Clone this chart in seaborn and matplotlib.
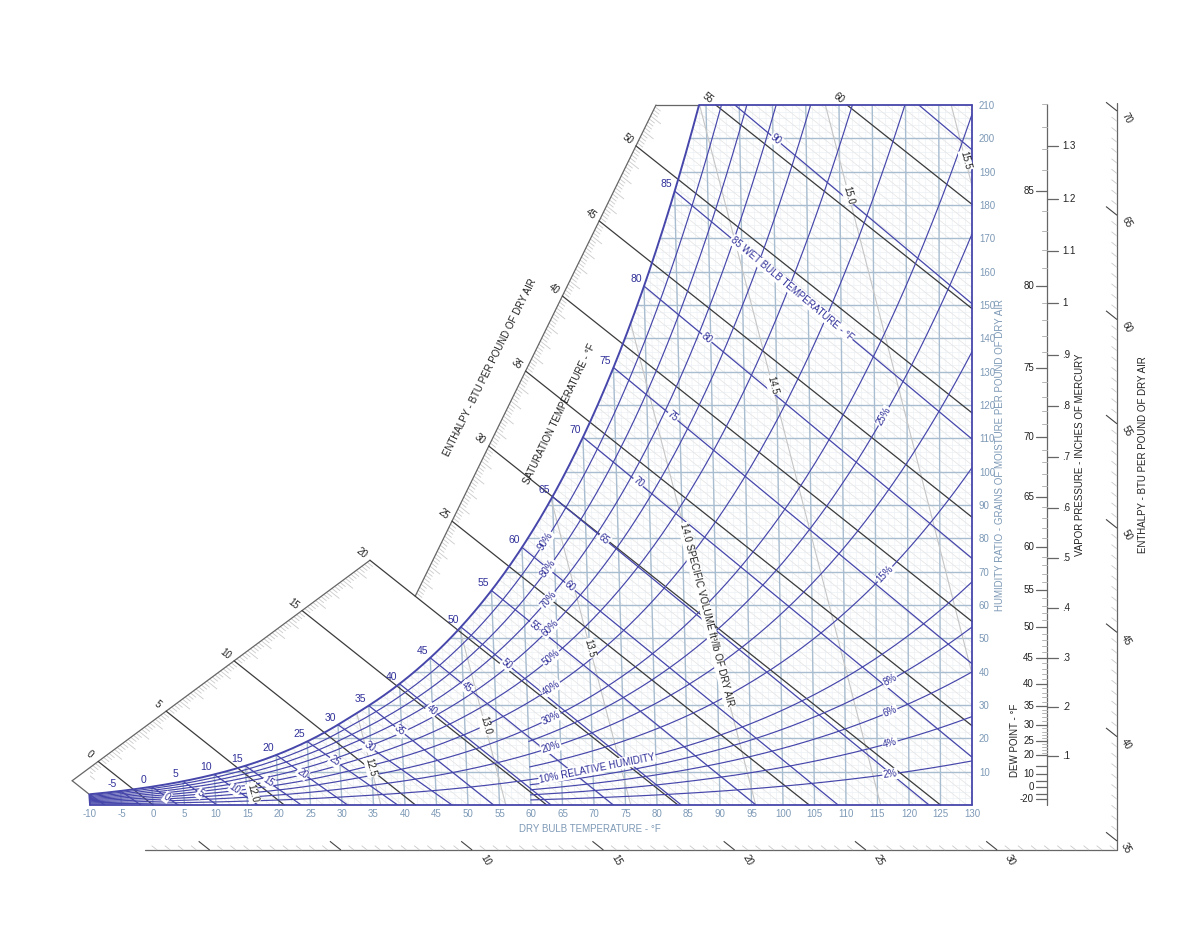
import numpy as np
import pandas as pd
import matplotlib
matplotlib.use("Agg")
import matplotlib.pyplot as plt
from matplotlib.collections import LineCollection
from matplotlib.patches import Polygon
import seaborn as sns

# ---------------- chart values ----------------
P_ATM = 14.696  # psia (sea level)

DRY_BULB_TICKS = list(range(-10, 131, 5))
GRAIN_TICKS = list(range(10, 211, 10))
RH_LEVELS = [2, 4, 6, 8, 10, 15, 20, 25, 30, 40, 50, 60, 70, 80, 90]
RH_START = [60, 60, 60, 60, -10, 60, -10, 60, -10, -10, -10, -10, -10, -10, -10]
RH_TEXT = ["2%", "4%", "6%", "8%", "10% RELATIVE HUMIDITY", "15%", "20%", "25%",
           "30%", "40%", "50%", "60%", "70%", "80%", "90%"]
SAT_LABELS = list(range(-5, 86, 5))
WET_BULB = list(range(-10, 96, 5))
WB_LABELS = [0, 5, 10, 15, 20, 25, 30, 35, 40, 45, 50, 55, 60, 65, 70, 75, 80, 85, 90]
ENTHALPY = list(range(0, 61, 5))
SPEC_VOL = [12.0, 12.5, 13.0, 13.5, 14.0, 14.5, 15.0, 15.5]
SPEC_VOL_TEXT = ["12.0", "12.5", "13.0", "13.5", "14.0 SPECIFIC VOLUME ft³/lb OF DRY AIR",
                 "14.5", "15.0", "15.5"]
DEW_POINT_MAJOR = [-20, -10, 0, 5, 10, 15, 20, 25, 30, 35, 40, 45, 50, 55, 60, 65, 70, 75, 80, 85]
DEW_POINT_LABELS = [-20, 0, 10, 20, 25, 30, 35, 40, 45, 50, 55, 60, 65, 70, 75, 80, 85]
VAPOR_INHG = [0.1, 0.2, 0.3, 0.4, 0.5, 0.6, 0.7, 0.8, 0.9, 1.0, 1.1, 1.2, 1.3]
VAPOR_TEXT = [".1", ".2", ".3", ".4", ".5", ".6", ".7", ".8", ".9", "1", "1.1", "1.2", "1.3"]
ENTH_LEFT_LABELS = [0, 5, 10, 15, 20, 25, 30, 35, 40, 45, 50]
ENTH_TOP_LABELS = [55, 60]
ENTH_BOTTOM_LABELS = [10, 15, 20, 25, 30]
ENTH_RIGHT_LABELS = [35, 40, 45, 50, 55, 60, 65, 70]

# ---------------- label placement (plot x in °F, or W in grains) ----------------
WB_LABEL_X = [2.2, 7.5, 13.0, 18.3, 23.7, 28.9, 34.4, 39.2, 44.3, 49.8, 56.2, 60.6,
              66.2, 71.6, 77.0, 82.5, 87.9, 101.4, 98.9]
RH_LABEL_X = [117, 117, 117, 117, 70.5, 116.2, 63.2, 116.0, 63.2, 63.2, 63.2, 63.0,
              62.7, 62.7, 62.3]
SPEC_VOL_LABEL_W = [3.6, 11.4, 23.8, 47.0, 57.0, 126.0, 183.0, 193.4]

# ---------------- colours ----------------
BLUE = "#4646ab"
BLUE_TXT = "#30309a"
GRID = "#a9bdd0"
MINOR = "#edf1f6"
HATCH = "#e3e3e3"
TICK_TXT = "#7d99b6"
BLACK = "#3c3c3c"
VOL = "#c6c6c6"
SCALE = "#666666"

# ---------------- layout ----------------
W_PX, H_PX = 1200, 927
AX_L, AX_R, AX_T, AX_B = 90, 972, 105, 805
PXX = 140 / (AX_R - AX_L)    # °F per pixel
PXY = 210 / (AX_B - AX_T)    # grains per pixel
K_T = 0.444 / 1680           # dry-bulb line lean (oblique h-W construction)
S_H = 1680 / (1061 + 0.444 * 130)


def to_x(t, w):
    return t - K_T * (130 - t) * w


def p_ws(t):
    t = np.asarray(t, float)
    T = t + 459.67
    ice = (-1.0214165e4 / T - 4.8932428 - 5.3765794e-3 * T + 1.9202377e-7 * T ** 2
           + 3.5575832e-10 * T ** 3 - 9.0344688e-14 * T ** 4 + 4.1635019 * np.log(T))
    wat = (-1.0440397e4 / T - 1.1294650e1 - 2.7022355e-2 * T + 1.2890360e-5 * T ** 2
           - 2.4780681e-9 * T ** 3 + 6.5459673 * np.log(T))
    return np.exp(np.where(t < 32, ice, wat))


def w_from_pw(pw):
    return 7000 * 0.621945 * pw / (P_ATM - pw)


def w_sat(t):
    return w_from_pw(p_ws(t))


def w_rh(t, rh):
    return w_from_pw(rh / 100 * p_ws(t))


def wb_line(twb):
    ws = w_sat(twb) / 7000
    if twb >= 32:
        a, b = 1093 - 0.556 * twb, 1093 - twb
    else:
        a, b = 1220 - 0.04 * twb, 1220 - 0.48 * twb
    t_end = twb + a * ws / 0.24
    t = np.linspace(twb, t_end, 300)
    w = 7000 * (a * ws - 0.24 * (t - twb)) / (b + 0.444 * t)
    return to_x(t, w), w


def vol_line(v, w):
    t = v * P_ATM / (0.370486 * (1 + 1.607858 * w / 7000)) - 459.67
    return to_x(t, w)


def h_w(h, x):
    return S_H * (h / 0.24 - x)


T_GRID = np.linspace(-25, 100, 6000)
W_GRID = w_sat(T_GRID)
T_TOP = np.interp(210, W_GRID, T_GRID)

sns.set_theme(style="white")
plt.rcParams["font.family"] = ["Liberation Sans", "DejaVu Sans"]
plt.rcParams["axes.unicode_minus"] = False

fig = plt.figure(figsize=(W_PX / 100, H_PX / 100), dpi=100)
ax = fig.add_axes([AX_L / W_PX, 1 - AX_B / H_PX, (AX_R - AX_L) / W_PX, (AX_B - AX_T) / H_PX])
ax.set_xlim(-10, 130)
ax.set_ylim(0, 210)
for s in ax.spines.values():
    s.set_visible(False)
ax.set_xticks(DRY_BULB_TICKS)
ax.set_xticklabels([str(v) for v in DRY_BULB_TICKS])
ax.set_yticks(GRAIN_TICKS)
ax.yaxis.tick_right()
ax.tick_params(length=0, labelsize=7, colors=TICK_TXT)
ax.tick_params(axis="x", pad=3)
ax.tick_params(axis="y", pad=5)
ax.grid(False)

# chart region (below saturation) used as clip path
t_sat = np.linspace(-10, T_TOP, 500)
w_s = w_sat(t_sat)
x_s = to_x(t_sat, w_s)
chart_xy = list(zip(x_s, w_s)) + [(130, 210), (130, 0), (-10, 0)]
chart_patch = Polygon(chart_xy, closed=True, transform=ax.transData, fc="none", ec="none")
ax.add_patch(chart_patch)


def clipped(segs, color, lw, z):
    lc = LineCollection(segs, colors=color, linewidths=lw, zorder=z)
    ax.add_collection(lc)
    lc.set_clip_path(chart_patch)
    return lc


# minor grid
segs = [[(t, 0), (to_x(t, 213), 213)] for t in range(-10, 131)]
segs += [[(-12, w), (130, w)] for w in range(2, 211, 2)]
clipped(segs, MINOR, 0.5, 1)

# faint enthalpy hatching
segs = [[(h / 0.24, 0), (h / 0.24 - 213 / S_H, 213)] for h in np.arange(-2, 72, 0.5)]
clipped(segs, HATCH, 0.5, 1.2)

# major grid
segs = [[(t, 0), (to_x(t, 213), 213)] for t in DRY_BULB_TICKS[1:-1]]
segs += [[(-12, w), (130, w)] for w in GRAIN_TICKS[:-1]]
clipped(segs, GRID, 1.0, 2)

# specific volume lines
wv = np.linspace(0, 213, 200)
segs = [list(zip(vol_line(v, wv), wv)) for v in SPEC_VOL]
clipped(segs, VOL, 0.8, 2.5)

# enthalpy scales on the left
LO_X0, LO_X20 = -8.7, 34.44
UP_X25, UP_SLOPE = 47.46, 1.168


def xs_lo(h):
    return LO_X0 + h * (LO_X20 - LO_X0) / 20


def xs_up(h):
    return UP_X25 + (h - 25) * UP_SLOPE


sat0_x, sat0_w = to_x(-10, w_sat(-10)), w_sat(-10)
H_START = 0.24 * (sat0_x + sat0_w / S_H)
H_TOP = (210 / S_H + UP_X25 - 25 * UP_SLOPE) / (1 / 0.24 - UP_SLOPE)

_dxp, _dyp = 1 / PXX, S_H / PXY
_n = np.hypot(_dxp, _dyp)
HDIR = np.array([_dxp / _n * PXX, -_dyp / _n * PXY])   # data step per pixel, down-right
H_ANGLE = -np.degrees(np.arctan2(_dyp, _dxp))


def scale_pt(h):
    x = xs_lo(h) if h <= 20 else xs_up(h)
    return np.array([x, h_w(h, x)])


ax.plot([xs_lo(H_START), xs_lo(20)], [h_w(H_START, xs_lo(H_START)), h_w(20, xs_lo(20))],
        color=SCALE, lw=0.9, clip_on=False, zorder=3)
ax.plot([xs_up(20), xs_up(H_TOP)], [h_w(20, xs_up(20)), 210], color=SCALE, lw=0.9,
        clip_on=False, zorder=3)
ax.plot([xs_lo(H_START), sat0_x], [h_w(H_START, xs_lo(H_START)), sat0_w], color=SCALE,
        lw=0.9, clip_on=False, zorder=3)
ax.plot([xs_up(H_TOP), to_x(T_TOP, 210)], [210, 210], color=SCALE, lw=0.9, clip_on=False, zorder=3)

ticks = []
for h in np.arange(np.ceil(H_START * 5) / 5, H_TOP, 0.2):
    if abs(h - round(h / 5) * 5) < 1e-6:
        continue
    p = scale_pt(h)
    ln = 13 if abs(h - round(h)) < 1e-6 else 7
    ticks.append([tuple(p), tuple(p + ln * HDIR)])
lc = LineCollection(ticks, colors="#cbcbcb", linewidths=0.6, zorder=2.6)
ax.add_collection(lc)

# major enthalpy lines
for h in ENTHALPY:
    x0 = h / 0.24
    if h <= 50:
        p = scale_pt(h)
    else:
        p = np.array([x0 - 210 / S_H, 210])
    end = (x0, 0) if x0 <= 130 else (130, h_w(h, 130))
    ax.plot([p[0], end[0]], [p[1], end[1]], color=BLACK, lw=0.9, zorder=3, clip_on=False)
    if h in ENTH_LEFT_LABELS or h in ENTH_TOP_LABELS:
        q = p - 11 * HDIR
        ax.text(q[0], q[1], str(h), rotation=H_ANGLE, rotation_mode="anchor", ha="center",
                va="center", fontsize=7, color="#222222", clip_on=False, zorder=8)

# wet bulb lines
wb_data = {}
for twb in WET_BULB:
    xw, ww = wb_line(twb)
    wb_data[twb] = (xw, ww)
    ax.plot(xw, ww, color=BLUE, lw=0.9, zorder=4)

# relative humidity curves (seaborn)
rows = []
for rh, t0 in zip(RH_LEVELS, RH_START):
    t_rh = np.linspace(t0, 130, 400)
    w = w_rh(t_rh, rh)
    rows.append(pd.DataFrame({"x": to_x(t_rh, w), "w": w, "rh": rh}))
rh_df = pd.concat(rows, ignore_index=True)
sns.lineplot(data=rh_df, x="x", y="w", units="rh", estimator=None, sort=False,
             color=BLUE, lw=0.85, ax=ax, legend=False, zorder=4)

# saturation curve
sns.lineplot(x=x_s, y=w_s, sort=False, color=BLUE, lw=1.4, ax=ax, zorder=5)
ax.set_xlabel("")
ax.set_ylabel("")

# frame
ax.plot([-10, 130], [0, 0], color=BLUE, lw=1.3, clip_on=False, zorder=5)
ax.plot([130, 130], [0, 210], color=BLUE, lw=1.3, clip_on=False, zorder=5)
ax.plot([to_x(T_TOP, 210), 130], [210, 210], color=BLUE, lw=1.3, clip_on=False, zorder=5)
ax.plot([-10, sat0_x], [0, sat0_w], color=BLUE, lw=1.3, clip_on=False, zorder=5)


def disp_angle(x1, y1, x2, y2):
    a = ax.transData.transform((x1, y1))
    b = ax.transData.transform((x2, y2))
    return np.degrees(np.arctan2(b[1] - a[1], b[0] - a[0]))


BOX = dict(boxstyle="square,pad=0.08", fc="white", ec="none")

# saturation labels
for t in SAT_LABELS:
    ws = w_sat(t)
    ax.annotate(str(t), (to_x(t, ws), ws), xytext=(-8, 7), textcoords="offset pixels",
                ha="center", va="center", fontsize=7.5, color=BLUE_TXT, zorder=8)

# wet bulb labels
for twb, xl in zip(WB_LABELS, WB_LABEL_X):
    xw, ww = wb_data[twb]
    yl = np.interp(xl, xw, ww)
    ang = disp_angle(xl - 1, np.interp(xl - 1, xw, ww), xl + 1, np.interp(xl + 1, xw, ww))
    txt = "85 WET BULB TEMPERATURE - °F" if twb == 85 else str(twb)
    ax.text(xl, yl, txt, rotation=ang, rotation_mode="anchor", ha="center", va="center",
            fontsize=7, color=BLUE_TXT, bbox=BOX, zorder=8)

# RH labels
for rh, txt, xl in zip(RH_LEVELS, RH_TEXT, RH_LABEL_X):
    tt = np.linspace(-10, 135, 2000)
    ww = w_rh(tt, rh)
    xx = to_x(tt, ww)
    yl = np.interp(xl, xx, ww)
    ang = disp_angle(xl - 1, np.interp(xl - 1, xx, ww), xl + 1, np.interp(xl + 1, xx, ww))
    ax.text(xl, yl, txt, rotation=ang, rotation_mode="anchor", ha="center", va="center",
            fontsize=7, color=BLUE_TXT, bbox=BOX, zorder=8)

# specific volume labels
for v, txt, wl in zip(SPEC_VOL, SPEC_VOL_TEXT, SPEC_VOL_LABEL_W):
    xl = vol_line(v, wl)
    ang = disp_angle(vol_line(v, wl + 1), wl + 1, vol_line(v, wl - 1), wl - 1)
    ax.text(xl, wl, txt, rotation=ang, rotation_mode="anchor", ha="center", va="center",
            fontsize=7, color="#222222", bbox=BOX, zorder=8, clip_on=False)

# axis titles and scale names
ax.text(69.4, -7.3, "DRY BULB TEMPERATURE - °F", ha="center", va="center", fontsize=7,
        color=TICK_TXT, clip_on=False)
ax.text(134.4, 105, "HUMIDITY RATIO - GRAINS OF MOISTURE PER POUND OF DRY AIR", rotation=90,
        ha="center", va="center", fontsize=7, color=TICK_TXT, clip_on=False)
ax.text(53.5, 131.3, "ENTHALPY - BTU PER POUND OF DRY AIR", rotation=63.6,
        rotation_mode="anchor", ha="center", va="center", fontsize=7, color="#222222")
ax.text(64.6, 117.2, "SATURATION TEMPERATURE - °F", rotation=64.5, rotation_mode="anchor",
        ha="center", va="center", fontsize=7, color="#222222")

# dew point / vapour pressure scale
DP_X = (1047 - AX_L) * PXX - 10
ax.plot([DP_X, DP_X], [0, 210.3], color=SCALE, lw=0.9, clip_on=False)
for t in DEW_POINT_MAJOR:
    w = w_sat(t)
    ax.plot([DP_X - 11 * PXX, DP_X], [w, w], color=SCALE, lw=0.9, clip_on=False)
for t in range(21, 90):
    if t % 5:
        w = w_sat(t)
        ax.plot([DP_X - 5 * PXX, DP_X], [w, w], color="#b5b5b5", lw=0.7, clip_on=False)
for t in DEW_POINT_LABELS:
    ax.text(DP_X - 13 * PXX, w_sat(t), str(t), ha="right", va="center", fontsize=7,
            color="#222222", clip_on=False)
for p, txt in zip(VAPOR_INHG, VAPOR_TEXT):
    w = w_from_pw(p * 0.491154)
    ax.plot([DP_X, DP_X + 11 * PXX], [w, w], color=SCALE, lw=0.9, clip_on=False)
    ax.text(DP_X + 15 * PXX, w, txt, ha="left", va="center", fontsize=7, color="#222222",
            clip_on=False)
ax.text((1015 - AX_L) * PXX - 10, 19.5, "DEW POINT - °F", rotation=90, ha="center",
        va="center", fontsize=7, color="#222222", clip_on=False)
ax.text((1080 - AX_L) * PXX - 10, 105, "VAPOR PRESSURE - INCHES OF MERCURY", rotation=90,
        ha="center", va="center", fontsize=7, color="#222222", clip_on=False)

# outer enthalpy scale (bottom and right)
ER_X = (1117 - AX_L) * PXX - 10
EB_W = -(850 - AX_B) * PXY
EB_X0 = (145 - AX_L) * PXX - 10
ER_TOP = (AX_B - 103) * PXY
ax.plot([EB_X0, ER_X, ER_X], [EB_W, EB_W, ER_TOP], color=SCALE, lw=0.9, clip_on=False)
H_CORNER = 0.24 * (ER_X + EB_W / S_H)
H_LOW = 0.24 * (EB_X0 + EB_W / S_H)
H_HIGH = 0.24 * (ER_X + ER_TOP / S_H)


def outer_pt(h):
    if h <= H_CORNER:
        return np.array([h / 0.24 - EB_W / S_H, EB_W])
    return np.array([ER_X, h_w(h, ER_X)])


minor, major = [], []
for h in np.arange(np.ceil(H_LOW * 2) / 2, H_HIGH, 0.5):
    p = outer_pt(h)
    if abs(h - round(h / 5) * 5) < 1e-6:
        major.append([tuple(p), tuple(p - 14 * HDIR)])
    else:
        minor.append([tuple(p), tuple(p - 7 * HDIR)])
for segs, col, lw in [(minor, "#c9c9c9", 0.6), (major, "#444444", 0.8)]:
    lc = LineCollection(segs, colors=col, linewidths=lw, zorder=3)
    lc.set_clip_on(False)
    ax.add_collection(lc)
for h in ENTH_BOTTOM_LABELS:
    q = outer_pt(h) + 17 * HDIR
    ax.text(q[0], q[1], str(h), rotation=-60, rotation_mode="anchor", ha="center", va="center",
            fontsize=7, color="#222222", clip_on=False)
for h in ENTH_RIGHT_LABELS:
    q = outer_pt(h) + 12 * HDIR
    ax.text(q[0], q[1], str(h), rotation=-60, rotation_mode="anchor", ha="center", va="center",
            fontsize=7, color="#222222", clip_on=False)
ax.text((1143 - AX_L) * PXX - 10, 105, "ENTHALPY - BTU PER POUND OF DRY AIR", rotation=90,
        ha="center", va="center", fontsize=7, color="#222222", clip_on=False)

fig.savefig("out.png", dpi=100, facecolor="white")
